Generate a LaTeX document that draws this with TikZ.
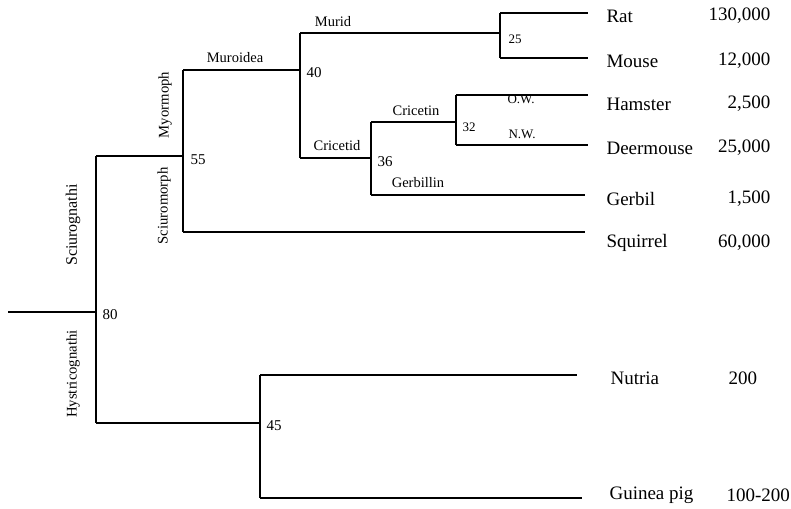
\documentclass[tikz,border=0pt]{standalone}
\usepackage{fontspec}
\setmainfont{Liberation Serif}
\begin{document}
\begin{tikzpicture}[x=1pt,y=-1pt,line width=1.1pt,
  species/.style={anchor=west,inner sep=0pt,font=\fontsize{19}{22}\selectfont},
  count/.style={anchor=east,inner sep=0pt,font=\fontsize{19}{22}\selectfont},
  countl/.style={anchor=west,inner sep=0pt,font=\fontsize{19}{22}\selectfont},
  clade/.style={inner sep=0pt,font=\fontsize{14.5}{16}\selectfont},
  small/.style={inner sep=0pt,font=\fontsize{13}{15}\selectfont},
  age/.style={inner sep=0pt,font=\fontsize{15}{16}\selectfont},
  vclade/.style={inner sep=0pt,rotate=90,font=\fontsize{14.7}{16}\selectfont}]
\useasboundingbox (0,0) rectangle (791,508);
% branch coordinates
\coordinate (root) at (8,312);
\coordinate (n80) at (96,312);
\coordinate (n80t) at (96,156);
\coordinate (n80b) at (96,423);
\coordinate (n55) at (183,156);
\coordinate (n55t) at (183,70);
\coordinate (n55b) at (183,232);
\coordinate (n40) at (300,70);
\coordinate (n40t) at (300,33);
\coordinate (n40b) at (300,158);
\coordinate (n25) at (500,33);
\coordinate (n25t) at (500,13);
\coordinate (n25b) at (500,58);
\coordinate (n36) at (371,158);
\coordinate (n36t) at (371,122);
\coordinate (n36b) at (371,195);
\coordinate (n32) at (456,122);
\coordinate (n32t) at (456,95);
\coordinate (n32b) at (456,145);
\coordinate (n45) at (260,423);
\coordinate (n45t) at (260,375);
\coordinate (n45b) at (260,498);
\coordinate (eRat) at (588,13);
\coordinate (eMouse) at (588,58);
\coordinate (eHam) at (588,95);
\coordinate (eDeer) at (588,145);
\coordinate (eGer) at (585,195);
\coordinate (eSq) at (585,232);
\coordinate (eNu) at (577,375);
\coordinate (eGp) at (582,498);
% tree
\draw (root) -- (n80);
\draw (n80t) -- (n80b);
\draw (n80t) -- (n55);
\draw (n80b) -- (n45);
\draw (n55t) -- (n55b);
\draw (n55t) -- (n40);
\draw (n55b) -- (eSq);
\draw (n40t) -- (n40b);
\draw (n40t) -- (n25);
\draw (n40b) -- (n36);
\draw (n25t) -- (n25b);
\draw (n25t) -- (eRat);
\draw (n25b) -- (eMouse);
\draw (n36t) -- (n36b);
\draw (n36t) -- (n32);
\draw (n36b) -- (eGer);
\draw (n32t) -- (n32b);
\draw (n32t) -- (eHam);
\draw (n32b) -- (eDeer);
\draw (n45t) -- (n45b);
\draw (n45t) -- (eNu);
\draw (n45b) -- (eGp);
% node ages
\node[age] (a80) at (110,315) {80};
\node[age] (a55) at (198,160) {55};
\node[age] (a40) at (314,73) {40};
\node[age] (a36) at (385,162) {36};
\node[small] (a32) at (469,127) {32};
\node[small] (a25) at (515,39) {25};
\node[age] (a45) at (274,426) {45};
% clade labels
\node[clade] (lMurid) at (333,22) {Murid};
\node[clade] (lMuroidea) at (235,58) {Muroidea};
\node[clade] (lCricetid) at (337,146) {Cricetid};
\node[clade] (lCricetin) at (416,111) {Cricetin};
\node[clade] (lGerbillin) at (418,183) {Gerbillin};
\node[small] (lOW) at (521,99) {O.W.};
\node[small] (lNW) at (522,134) {N.W.};
\node[vclade] (lMyo) at (165,105) {Myormoph};
\node[vclade] (lSciuro) at (164,206) {Sciuromorph};
\node[vclade,font=\fontsize{16}{18}\selectfont] (lSciurog) at (73,225) {Sciurognathi};
\node[vclade] (lHys) at (73,374) {Hystricognathi};
% species
\node[species] (sRat) at (606,16) {Rat};
\node[species] (sMouse) at (606,61) {Mouse};
\node[species] (sHam) at (606,104) {Hamster};
\node[species] (sDeer) at (606,148) {Deermouse};
\node[species] (sGer) at (606,199) {Gerbil};
\node[species] (sSq) at (606,243) {Squirrel};
\node[species] (sNu) at (610,378) {Nutria};
\node[species] (sGp) at (609,495) {Guinea pig};
% counts
\node[count] (cRat) at (771,16) {130,000};
\node[count] (cMouse) at (771,61) {12,000};
\node[count] (cHam) at (771,104) {2,500};
\node[count] (cDeer) at (771,148) {25,000};
\node[count] (cGer) at (771,199) {1,500};
\node[count] (cSq) at (771,243) {60,000};
\node[countl] (cNu) at (728,378) {200};
\node[countl] (cGp) at (726,495) {100-200};
\end{tikzpicture}
\end{document}
